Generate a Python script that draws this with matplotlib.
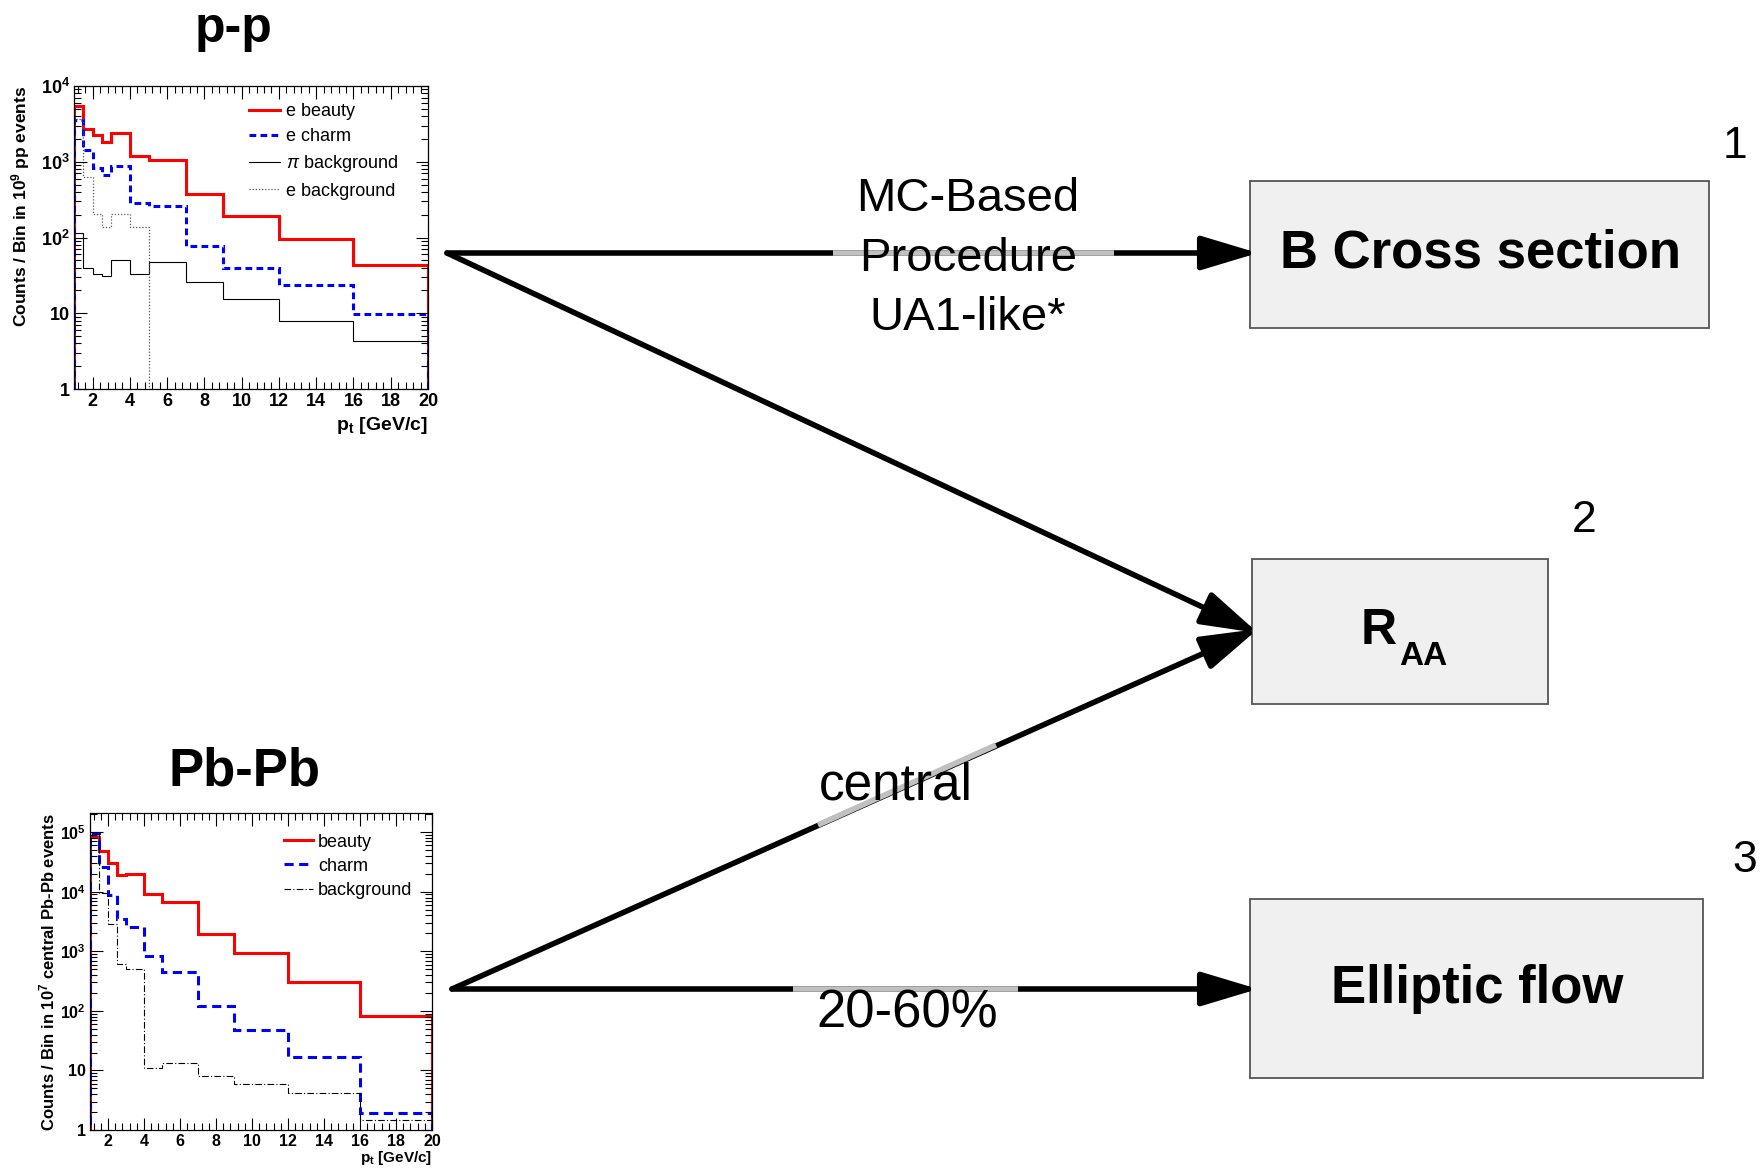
import matplotlib
matplotlib.use('Agg')
import matplotlib.pyplot as plt
from matplotlib.ticker import MultipleLocator, LogLocator, NullFormatter
from matplotlib.patches import Rectangle

plt.rcParams['font.family'] = ['Liberation Sans', 'DejaVu Sans']
plt.rcParams['mathtext.fontset'] = 'custom'
plt.rcParams['mathtext.rm'] = 'Liberation Sans'
plt.rcParams['mathtext.bf'] = 'Liberation Sans:bold'
plt.rcParams['mathtext.it'] = 'Liberation Sans:italic'

# pt bin edges [GeV/c], shared by both spectra
edges = [1, 1.5, 2, 2.5, 3, 4, 5, 7, 9, 12, 16, 20]

# p-p, counts per bin in 10^9 events
pp_beauty = [5450, 2690, 2230, 1850, 2400, 1180, 1050, 370, 193, 95, 44]
pp_charm = [3600, 1450, 830, 660, 880, 287, 259, 77, 39, 23.5, 9.8]
pp_pion_bkg = [115, 40, 32.5, 31, 51, 32.5, 48, 26, 15.2, 7.9, 4.3]
pp_e_bkg = [3700, 630, 203, 138, 203, 138]   # empty above 5 GeV/c

# Pb-Pb, counts per bin in 10^7 central events
pbpb_beauty = [82400, 49000, 30600, 18800, 20000, 9250, 6700, 1980, 920, 306, 81]
pbpb_charm = [97500, 25900, 8700, 3520, 2560, 825, 450, 120, 47, 16.5, 1.95]
pbpb_bkg = [88000, 9500, 2900, 620, 510, 10.8, 13.4, 8.0, 5.9, 4.2, 1.5]

W, H = 1764, 1168
fig = plt.figure(figsize=(W / 100, H / 100), dpi=100)

# canvas in pixel units for the flow chart
cv = fig.add_axes([0, 0, 1, 1])
cv.set_xlim(0, W)
cv.set_ylim(H, 0)
cv.axis('off')


def root_style(ax, ymax, ydecades, fs):
    ax.set_xlim(1, 20)
    ax.set_yscale('log')
    ax.set_ylim(1, ymax)
    ax.set_xticks(range(2, 21, 2))
    ax.xaxis.set_minor_locator(MultipleLocator(0.4))
    ticks = [10 ** k for k in range(ydecades + 1)]
    labels = ['1', '10'] + [r'$\mathbf{10^{%d}}$' % k for k in range(2, ydecades + 1)]
    ax.set_yticks(ticks, labels=labels)
    ax.yaxis.set_minor_locator(LogLocator(subs=range(2, 10)))
    ax.yaxis.set_minor_formatter(NullFormatter())
    ax.tick_params(which='both', direction='in', top=True, right=True, width=0.8)
    ax.tick_params(which='major', length=9, labelsize=fs, pad=3)
    ax.tick_params(which='minor', length=5)
    for lab in ax.get_xticklabels() + ax.get_yticklabels():
        lab.set_fontweight('bold')
    for sp in ax.spines.values():
        sp.set_linewidth(0.9)


# --- p-p spectrum
ax1 = fig.add_axes([74 / W, 1 - 389 / H, 354 / W, 303 / H])
root_style(ax1, 1e4, 4, 13)
ax1.stairs(pp_beauty, edges, color='#ff0000', lw=2.2, label='e beauty')
ax1.stairs(pp_charm, edges, color='#0000ff', lw=2.2, ls=(0, (2.2, 1.4)), label='e charm')
ax1.stairs(pp_pion_bkg, edges, color='black', lw=0.8, label=r'$\pi$ background')
ax1.stairs(pp_e_bkg, edges[:len(pp_e_bkg) + 1], baseline=1, color='#555555', lw=0.9,
           ls=(0, (1, 1.5)), label='e background')
ax1.set_ylabel(r'Counts / Bin in 10$^{\mathbf{9}}$ pp events', fontsize=12.5,
               fontweight='bold', loc='top')
ax1.yaxis.set_label_coords(-0.12, 1.0)
ax1.set_xlabel(r'p$_{\mathbf{t}}$ [GeV/c]', fontsize=14, fontweight='bold', loc='right')
ax1.xaxis.set_label_coords(1.0, -0.085)
ax1.legend(loc='upper left', bbox_to_anchor=(0.46, 0.985), frameon=False, fontsize=13,
           handlelength=1.7, handletextpad=0.35, labelspacing=0.45, borderpad=0.2)

# --- Pb-Pb spectrum
ax2 = fig.add_axes([90 / W, 1 - 1130 / H, 342 / W, 317 / H])
root_style(ax2, 2.1e5, 5, 11.5)
ax2.stairs(pbpb_beauty, edges, color='#ff0000', lw=2.2, label='beauty')
ax2.stairs(pbpb_charm, edges, color='#0000ff', lw=2.2, ls=(0, (3, 1.8)), label='charm')
ax2.stairs(pbpb_bkg, edges, color='black', lw=0.8, ls=(0, (6, 2, 1, 2)), label='background')
ax2.set_ylabel(r'Counts / Bin in 10$^{\mathbf{7}}$ central Pb-Pb events', fontsize=12,
               fontweight='bold', loc='top')
ax2.yaxis.set_label_coords(-0.095, 1.0)
ax2.set_xlabel(r'p$_{\mathbf{t}}$ [GeV/c]', fontsize=11, fontweight='bold', loc='right')
ax2.xaxis.set_label_coords(1.0, -0.06)
ax2.legend(loc='upper left', bbox_to_anchor=(0.53, 0.975), frameon=False, fontsize=13,
           handlelength=1.6, handletextpad=0.3, labelspacing=0.4, borderpad=0.2)

# --- titles
cv.text(234, 42, 'p-p', fontsize=36, fontweight='bold', ha='center', va='baseline')
cv.text(244, 785, 'Pb-Pb', fontsize=38, fontweight='bold', ha='center', va='baseline')

# --- target boxes
boxes = [
    (1250, 181, 459, 147),
    (1252, 559, 296, 145),
    (1250, 899, 453, 179),
]
for x0, y0, bw, bh in boxes:
    cv.add_patch(Rectangle((x0, y0), bw, bh, facecolor='#f0f0f0', edgecolor='#555555',
                           lw=1.3, zorder=1))

cv.text(1480, 254, 'B Cross section', fontsize=38, fontweight='bold', ha='center', va='center')
cv.text(1361, 644, 'R', fontsize=36, fontweight='bold', ha='left', va='baseline')
cv.text(1399, 665, 'AA', fontsize=24, fontweight='bold', ha='left', va='baseline')
cv.text(1477, 989, 'Elliptic flow', fontsize=38, fontweight='bold', ha='center', va='center')

cv.text(1735, 146, '1', fontsize=32, ha='center', va='center')
cv.text(1584, 520, '2', fontsize=32, ha='center', va='center')
cv.text(1745, 861, '3', fontsize=32, ha='center', va='center')

# --- arrows
arrow_kw = dict(arrowstyle='-|>,head_length=3.5,head_width=1.05', lw=4, color='black',
                mutation_scale=10, shrinkA=0, shrinkB=0)
links = [
    ((447, 253), (1258, 253)),
    ((447, 253), (1258, 633)),
    ((452, 989), (1258, 629)),
    ((452, 989), (1258, 989)),
]
for start, tip in links:
    cv.annotate('', xy=tip, xytext=start, arrowprops=arrow_kw, zorder=2)

# light segments behind the labels
gray = '#c0c0c0'
cv.plot([833, 1114], [253, 253], color=gray, lw=4, solid_capstyle='butt', zorder=3)
cv.plot([818, 996], [825, 745], color=gray, lw=4, solid_capstyle='butt', zorder=3)
cv.plot([793, 1018], [989, 989], color=gray, lw=4, solid_capstyle='butt', zorder=3)

# --- labels on the links
for txt, yb in [('MC-Based', 211), ('Procedure', 271), ('UA1-like*', 330)]:
    cv.text(968, yb, txt, fontsize=34, ha='center', va='baseline', zorder=4)
cv.text(896, 800, 'central', fontsize=37, ha='center', va='baseline', zorder=4)
cv.text(907, 1027, '20-60%', fontsize=38, ha='center', va='baseline', zorder=4)

fig.savefig('out.png', dpi=100)
